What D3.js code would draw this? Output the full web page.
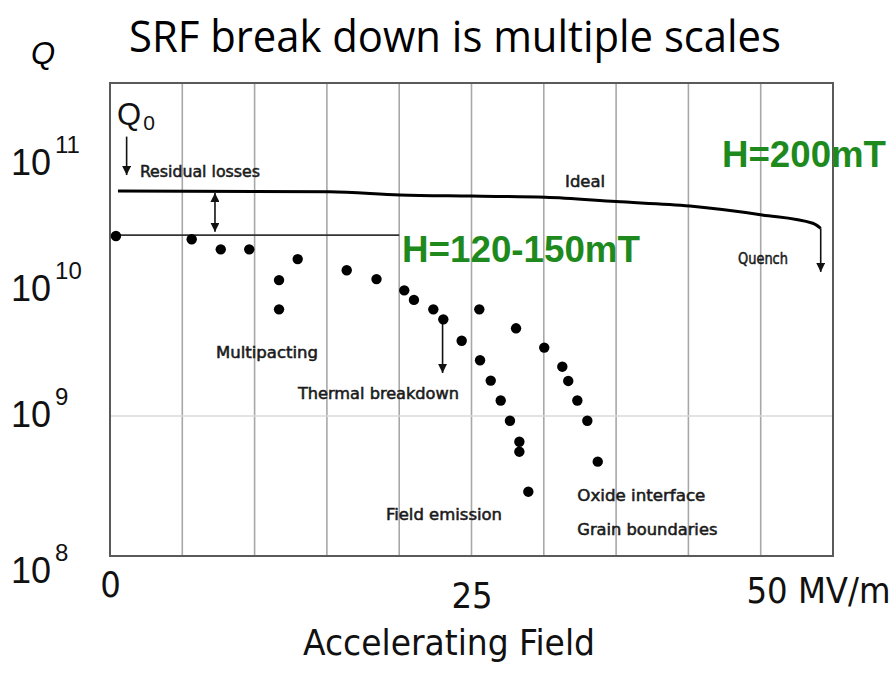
<!DOCTYPE html>
<html>
<head>
<meta charset="utf-8">
<script src="https://cdn.jsdelivr.net/npm/d3@7"></script>
<style>
  body { margin: 0; background: #fff; }
  text { font-family: "DejaVu Sans Condensed", "DejaVu Sans", sans-serif; font-stretch: condensed; }
</style>
</head>
<body>
<script>
// measured cavity Q vs accelerating field (MV/m)
const fieldMV = [0.41, 5.65, 7.66, 9.63, 11.69, 11.69, 12.98, 16.37, 18.43, 20.35, 21.02, 22.36, 23.05, 24.32,
                 25.54, 25.59, 26.33, 27.02, 27.66, 28.31, 28.31, 28.93,
                 28.08, 30.03, 31.28, 31.69, 32.32, 33.01, 33.73];
const qMeasured = [1.93e10, 1.83e10, 1.55e10, 1.55e10, 9.35e9, 5.78e9, 1.32e10, 1.10e10, 9.5e9, 7.9e9, 6.75e9, 5.78e9, 4.9e9, 3.45e9,
                   5.78e9, 2.5e9, 1.79e9, 1.29e9, 9.25e8, 6.55e8, 5.56e8, 2.88e8,
                   4.23e9, 3.08e9, 2.25e9, 1.78e9, 1.29e9, 9.25e8, 4.72e8];

// ideal curve
const idealField = [0.55, 15.2, 20.05, 25.0, 30.1, 35.0, 40.1, 45.1, 48.6, 49.15];
const idealQ = [4.05e10, 4.0e10, 3.79e10, 3.72e10, 3.65e10, 3.4e10, 3.16e10, 2.73e10, 2.38e10, 2.19e10];

// residual-loss level
const residualField = [0.55, 20.0];
const residualQ = 1.96e10;

const xTicks = [0, 25, 50];
const xTickLabels = ["0", "25", "50 MV/m"];
const xGrid = [5, 10, 15, 20, 25, 30, 35, 40, 45];
const yTicks = [1e8, 1e9, 1e10, 1e11];
const yTickExp = ["8", "9", "10", "11"];

// annotations
const annoText = ["Residual losses", "Ideal", "Quench", "Multipacting", "Thermal breakdown", "Field emission", "Oxide interface", "Grain boundaries"];
const annoField = [2.07, 31.47, 43.43, 7.33, 13.0, 19.09, 32.32, 32.32];
const annoQ = [5.1e10, 4.33e10, 1.22e10, 2.6e9, 1.32e9, 1.81e8, 2.47e8, 1.41e8];
const annoWidth = [120, 40, 50, 102, 161, 116, 128, 140];

// arrows
const arrowField = [1.15, 7.26, 23.0, 49.15];
const arrowFromQ = [9.9e10, 3.92e10, 4.69e9, 2.19e10];
const arrowToQ = [5.26e10, 2.07e10, 2.03e9, 1.07e10];
const arrowDouble = [false, true, false, false];

const w = 893, h = 673;
const plotLeft = 110, plotRight = 833, plotTop = 83, plotBottom = 556;
const yLabelShift = [27, 11, 25, 39];
const xLabelDrop = [41, 52, 47];

const svg = d3.select("body").append("svg")
  .attr("width", w).attr("height", h);

svg.append("rect").attr("width", w).attr("height", h).attr("fill", "#fff");

const xScale = d3.scaleLinear().domain([0, 50]).range([plotLeft, plotRight]);
const yScale = d3.scaleLog().domain([1e8, Math.pow(10, 9 + (416 - plotTop) / 140)]).range([plotBottom, plotTop]);

const defs = svg.append("defs");
defs.append("marker")
  .attr("id", "head")
  .attr("viewBox", "0 0 10 10")
  .attr("refX", 10).attr("refY", 5)
  .attr("markerWidth", 9).attr("markerHeight", 9)
  .attr("markerUnits", "userSpaceOnUse")
  .attr("orient", "auto-start-reverse")
  .append("path").attr("d", "M0,0L10,5L0,10z").attr("fill", "#111");

// title
svg.append("text")
  .attr("x", 455).attr("y", 52)
  .attr("text-anchor", "middle")
  .attr("textLength", 652).attr("lengthAdjust", "spacingAndGlyphs")
  .style("font-family", "'Open Sans', sans-serif").style("font-stretch", "normal")
  .style("font-size", "44px").attr("fill", "#000")
  .text("SRF break down is multiple scales");

// Q axis label
svg.append("text")
  .attr("x", 31).attr("y", 64)
  .style("font-family", "'Liberation Sans', Arial, sans-serif").style("font-stretch", "normal")
  .style("font-style", "italic").style("font-size", "31px")
  .text("Q");

// grid
svg.selectAll(".vgrid").data(xGrid).enter().append("line")
  .attr("class", "vgrid")
  .attr("x1", d => xScale(d)).attr("x2", d => xScale(d))
  .attr("y1", plotTop).attr("y2", plotBottom)
  .attr("stroke", "#a8a8a8").attr("stroke-width", 1.6);

svg.append("line")
  .attr("x1", plotLeft).attr("x2", plotRight)
  .attr("y1", yScale(1e9)).attr("y2", yScale(1e9))
  .attr("stroke", "#dadada").attr("stroke-width", 1.5);

svg.append("rect")
  .attr("x", plotLeft).attr("y", plotTop)
  .attr("width", plotRight - plotLeft).attr("height", plotBottom - plotTop)
  .attr("fill", "none").attr("stroke", "#5a5a5a").attr("stroke-width", 2);

// x axis labels
const xAxis = d3.axisBottom(xScale).tickValues(xTicks).tickSize(0).tickPadding(0)
  .tickFormat((d, i) => xTickLabels[i]);
const gx = svg.append("g").attr("transform", "translate(0," + plotBottom + ")").call(xAxis);
gx.select(".domain").remove();
gx.selectAll("text")
  .attr("y", (d, i) => xLabelDrop[i]).attr("dy", 0)
  .attr("fill", "#111")
  .style("font-size", "36px");
gx.selectAll("text").filter((d, i) => i === xTicks.length - 1)
  .attr("text-anchor", "end").attr("x", w - 3 - plotRight);

svg.append("text")
  .attr("x", 449).attr("y", 655)
  .attr("text-anchor", "middle")
  .attr("textLength", 292).attr("lengthAdjust", "spacingAndGlyphs")
  .style("font-size", "36px").attr("fill", "#111")
  .text("Accelerating Field");

// y tick labels 10^n
const yl = svg.selectAll(".ylab").data(yTicks).enter().append("text")
  .attr("class", "ylab")
  .attr("x", 11)
  .attr("y", (d, i) => yScale(d) + yLabelShift[i])
  .style("font-family", "'Liberation Sans', Arial, sans-serif").style("font-stretch", "normal")
  .style("font-size", "36px").attr("fill", "#111");
yl.append("tspan").text("10");
yl.append("tspan")
  .attr("dx", 4).attr("dy", -22)
  .style("font-size", "24px")
  .text((d, i) => yTickExp[i]);

// residual level
svg.append("line")
  .attr("x1", xScale(residualField[0])).attr("x2", xScale(residualField[1]))
  .attr("y1", yScale(residualQ)).attr("y2", yScale(residualQ))
  .attr("stroke", "#333").attr("stroke-width", 1.6);

// ideal curve
const ideal = idealField.map((f, i) => [f, idealQ[i]]);
svg.append("path")
  .datum(ideal)
  .attr("fill", "none").attr("stroke", "#000").attr("stroke-width", 3)
  .attr("d", d3.line().x(d => xScale(d[0])).y(d => yScale(d[1])).curve(d3.curveMonotoneX));

// arrows
arrowField.forEach((f, i) => {
  svg.append("line")
    .attr("x1", xScale(f)).attr("x2", xScale(f))
    .attr("y1", yScale(arrowFromQ[i])).attr("y2", yScale(arrowToQ[i]))
    .attr("stroke", "#111").attr("stroke-width", 1.6)
    .attr("marker-end", "url(#head)")
    .attr("marker-start", arrowDouble[i] ? "url(#head)" : null);
});

// measured points
svg.selectAll(".dot").data(fieldMV).enter().append("circle")
  .attr("class", "dot")
  .attr("cx", d => xScale(d))
  .attr("cy", (d, i) => yScale(qMeasured[i]))
  .attr("r", 5.2)
  .attr("fill", "#000");

// annotations
svg.selectAll(".anno").data(annoText).enter().append("text")
  .attr("class", "anno")
  .attr("x", (d, i) => xScale(annoField[i]))
  .attr("y", (d, i) => yScale(annoQ[i]))
  .attr("textLength", (d, i) => annoWidth[i]).attr("lengthAdjust", "spacingAndGlyphs")
  .style("font-size", "16px").attr("fill", "#1a1a1a")
  .attr("stroke", "#1a1a1a").attr("stroke-width", 0.5)
  .text(d => d);

// Q0 label
const q0 = svg.append("text")
  .attr("x", 117).attr("y", 125)
  .style("font-family", "'Liberation Sans', Arial, sans-serif").style("font-stretch", "normal")
  .style("font-size", "31px").attr("fill", "#111");
q0.append("tspan").text("Q");
q0.append("tspan").attr("dx", 2).attr("dy", 5).style("font-size", "21px").text("0");

// green field labels
svg.append("text")
  .attr("x", 402).attr("y", 262)
  .attr("textLength", 238).attr("lengthAdjust", "spacingAndGlyphs")
  .style("font-family", "'Liberation Sans', Arial, sans-serif").style("font-stretch", "normal")
  .style("font-weight", "bold").style("font-size", "37px")
  .attr("fill", "#1e8a1e")
  .text("H=120-150mT");

svg.append("text")
  .attr("x", 722).attr("y", 167)
  .attr("textLength", 164).attr("lengthAdjust", "spacingAndGlyphs")
  .style("font-family", "'Liberation Sans', Arial, sans-serif").style("font-stretch", "normal")
  .style("font-weight", "bold").style("font-size", "37px")
  .attr("fill", "#1e8a1e")
  .text("H=200mT");
</script>
</body>
</html>
